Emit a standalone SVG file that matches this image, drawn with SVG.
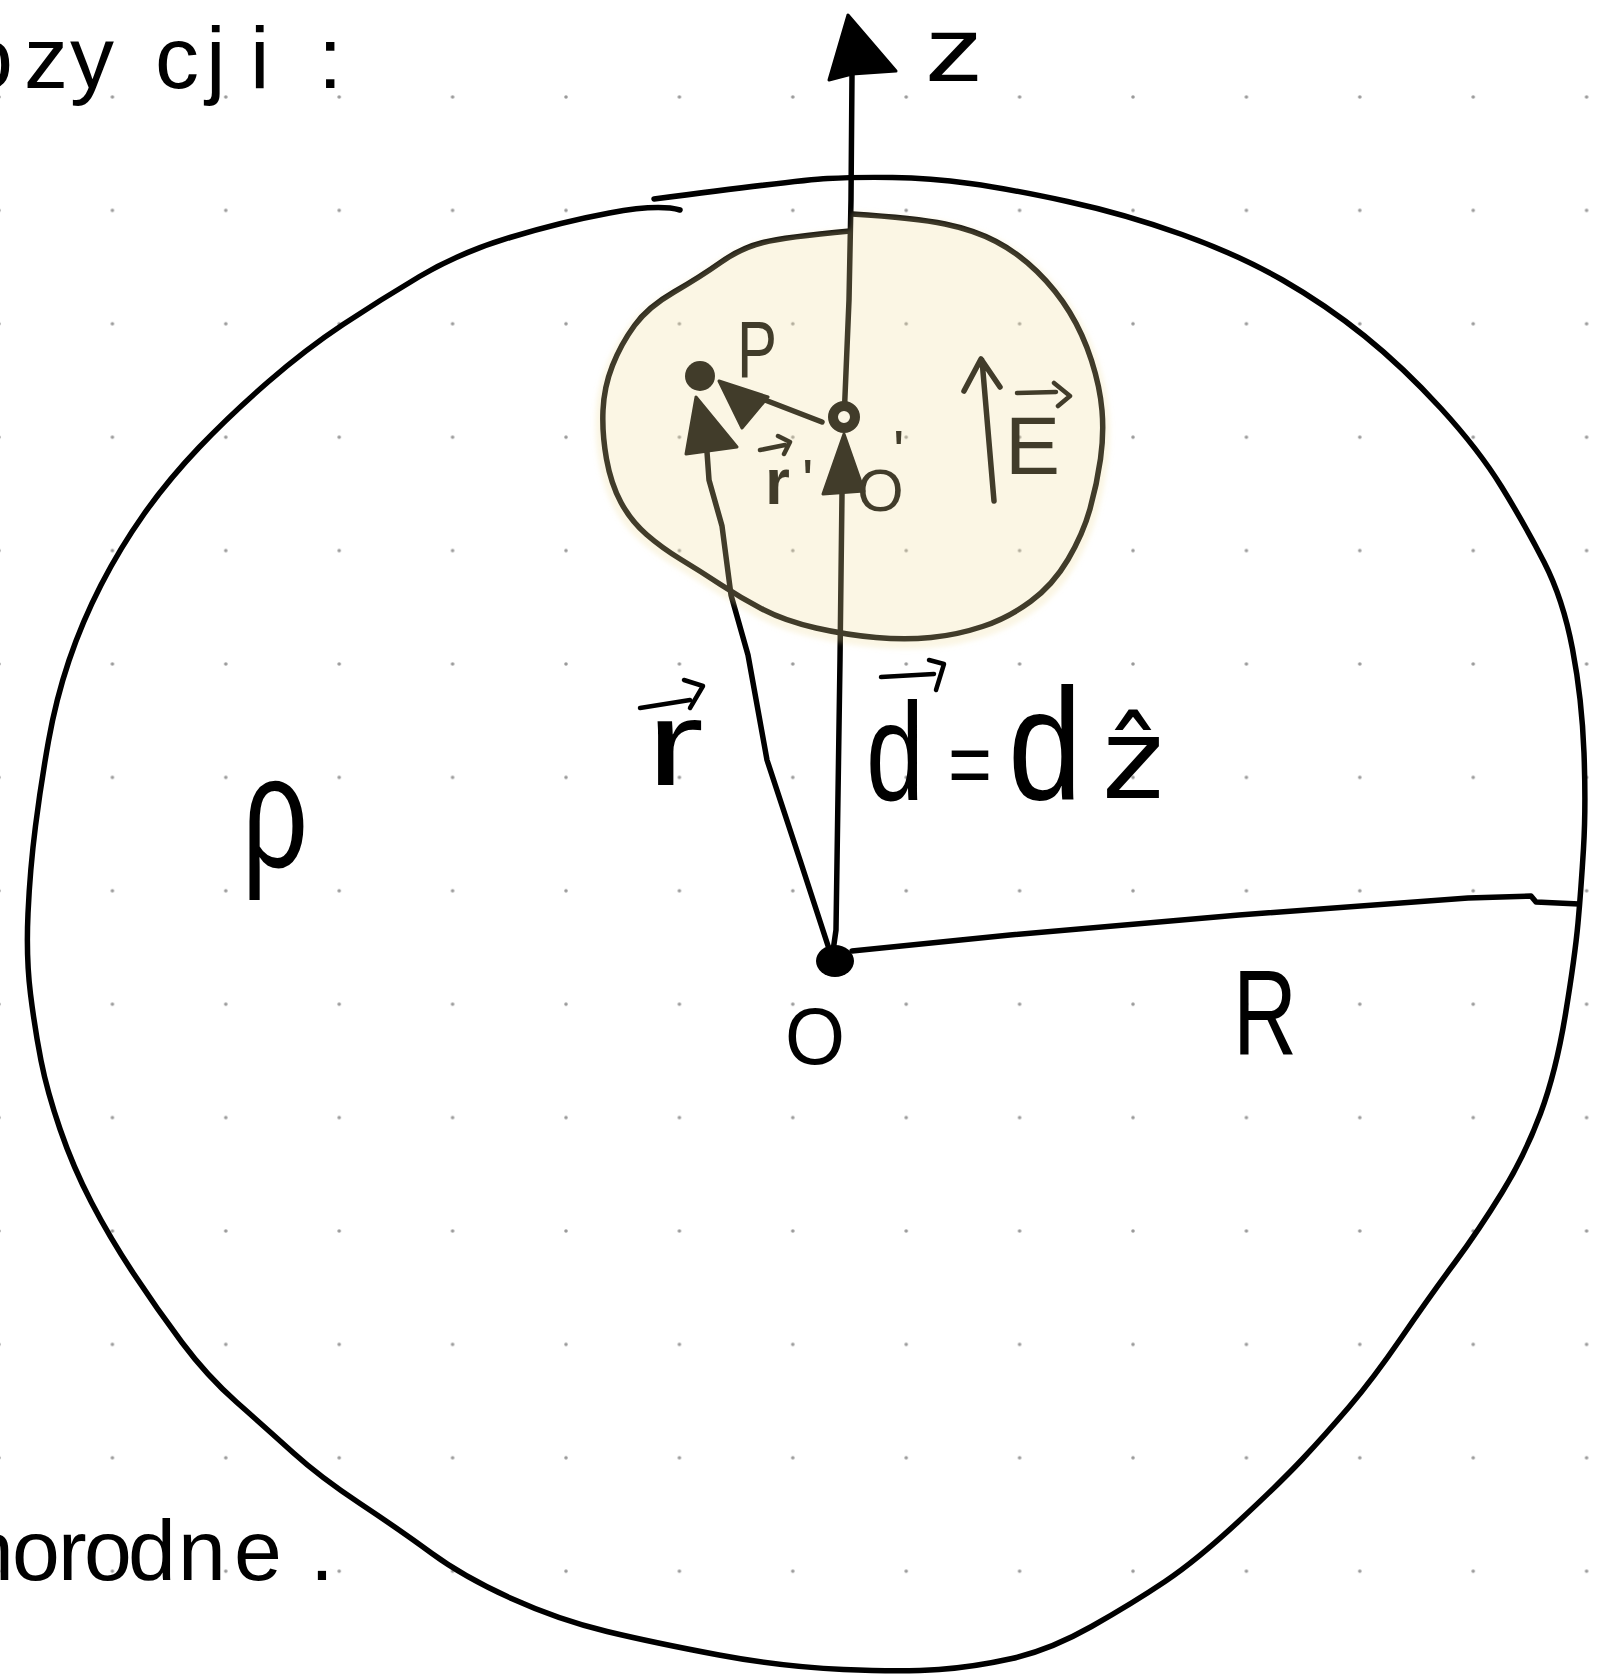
<svg xmlns="http://www.w3.org/2000/svg" width="1610" height="1676" viewBox="0 0 1610 1676">
  <style>
    .ink { fill: none; stroke: #000; stroke-width: 5.5; stroke-linecap: round; stroke-linejoin: round; }
    .thin { fill: none; stroke: #000; stroke-width: 4.5; stroke-linecap: round; stroke-linejoin: round; }
    .head { fill: #000; stroke: #000; stroke-width: 3; stroke-linejoin: round; }
    .lbl { font-family: "Liberation Sans", Arial, sans-serif; fill: #000; }
    .dj { font-family: "DejaVu Sans", "Liberation Sans", sans-serif; fill: #000; }
  </style>
  <defs>
    <pattern id="dots" patternUnits="userSpaceOnUse" x="-57.7" y="40.3" width="113.4" height="113.4">
      <circle cx="56.7" cy="56.7" r="1.8" fill="#9a9a9a"/>
    </pattern>
    <filter id="soft" x="-10%" y="-10%" width="120%" height="120%">
      <feGaussianBlur stdDeviation="2.5"/>
    </filter>
    <path id="cavityShape" d="M852,214 Q916,218 945,224 Q974,230 996,241.5 Q1018,253 1037,271.5 Q1056,290 1069.5,312 Q1083,334 1091.5,360.5 Q1100,387 1102,410.5 Q1104,434 1100.5,459 Q1097,484 1090,509 Q1083,534 1068,559.5 Q1053,585 1030.5,601.5 Q1008,618 982.5,626.5 Q957,635 931,637.5 Q905,640 876,637.5 Q847,635 816,628 Q785,621 763,609.5 Q741,598 720.5,584.5 Q700,571 681,559.5 Q662,548 646.5,534.5 Q631,521 621,502.5 Q611,484 606.5,459 Q602,434 603,410.5 Q604,387 612.5,365.5 Q621,344 634.5,325.5 Q648,307 674,292 Q700,277 720.5,262.5 Q741,248 763,242.5 Q785,237 850,231"/>
  </defs>

  <rect width="1610" height="1676" fill="#ffffff"/>
  <rect width="1610" height="1676" fill="url(#dots)"/>

  <!-- outer sphere node -->
  <g id="outer-sphere">
    <path class="ink" stroke-width="6" d="M654,199 Q800,180 827.5,178.5 Q855,177 892.5,177.5 Q930,178 970,183.5 Q1010,189 1067.5,201.5 Q1125,214 1182,234.5 Q1239,255 1282.5,280 Q1326,305 1364.5,336 Q1403,367 1441,408.5 Q1479,450 1502,487.5 Q1525,525 1544,562 Q1563,599 1572.5,649 Q1582,699 1584,753 Q1586,807 1583.5,848.5 Q1581,890 1578,923 Q1575,956 1565.5,1014 Q1556,1072 1540.5,1113.5 Q1525,1155 1502,1192.5 Q1479,1230 1454.5,1263 Q1430,1296 1401.5,1337.5 Q1373,1379 1349,1407 Q1325,1435 1302.5,1459 Q1280,1483 1238.5,1521.5 Q1197,1560 1165,1581.5 Q1133,1603 1091.5,1626.5 Q1050,1650 1012,1658.5 Q974,1667 939,1669.5 Q904,1672 843.5,1669.5 Q783,1667 719,1655 Q655,1643 607,1631.5 Q559,1620 511.5,1598.5 Q464,1577 432,1553.5 Q400,1530 360,1503.5 Q320,1477 293.5,1453 Q267,1429 237,1402.5 Q207,1376 182,1342.5 Q157,1309 133.5,1273.5 Q110,1238 91.5,1202.5 Q73,1167 60,1129 Q47,1091 41,1060.5 Q35,1030 30.5,994 Q26,958 28,913.5 Q30,869 35.5,826 Q41,783 48.5,741 Q56,699 69,660.5 Q82,622 101,585 Q120,548 144,514 Q168,480 199,447.5 Q230,415 268,382 Q306,349 343,324.5 Q380,300 419.5,276.5 Q459,253 510,237.5 Q561,222 609.5,213 Q658,204 680,210"/>
    <text class="lbl" x="242" y="867" font-size="160" textLength="66" lengthAdjust="spacingAndGlyphs">ρ</text>
    <text class="lbl" x="1233" y="1055" font-size="120" textLength="64" lengthAdjust="spacingAndGlyphs">R</text>
  </g>

  <!-- cavity node -->
  <g id="cavity">
    <use href="#cavityShape" class="ink" stroke-width="6"/>
  </g>

  <!-- connectors -->
  <g id="connectors">
    <!-- z axis -->
    <path class="ink" d="M844,420 L849,300 L851,200 L852,74"/>
    <polygon class="head" points="848,15 829,80 852,74 896,71"/>
    <!-- d vector O -> O' -->
    <path class="ink" d="M832,958 L836,930 L840,660 L842,494"/>
    <polygon class="head" points="844,434 823,494 864,491"/>
    <!-- r vector O -> P -->
    <path class="ink" d="M832,958 L800,860 L767,760 L748,655 L731,595 L722,526 L709,480 L707,452"/>
    <polygon class="head" points="696,397 686,454 737,447"/>
    <!-- r' vector O' -> P -->
    <path class="ink" d="M822,422 L765,400"/>
    <polygon class="head" points="719,381 742,428 768,397"/>
    <!-- R radius -->
    <path class="ink" d="M852,951 L1010,935 L1239,915 L1468,898 L1531,896 L1536,902 L1579,904"/>
    <!-- field E arrow -->
    <path class="ink" d="M994,501 L982,360 M964,391 L981,359 L1000,387"/>
  </g>

  <!-- point O -->
  <g id="point-O">
    <ellipse cx="835" cy="961" rx="19" ry="16" fill="#000"/>
    <text class="lbl" x="785" y="1064" font-size="80" textLength="60" lengthAdjust="spacingAndGlyphs">O</text>
  </g>

  <!-- point O' -->
  <g id="point-O-prime">
    <circle cx="844" cy="417" r="11" fill="#fff" stroke="#000" stroke-width="10"/>
    <text class="lbl" font-size="60" x="857 893" y="511 472">O'</text>
  </g>

  <!-- point P -->
  <g id="point-P">
    <circle cx="700" cy="376" r="15" fill="#000"/>
    <text class="lbl" x="737" y="377" font-size="80" textLength="40" lengthAdjust="spacingAndGlyphs">P</text>
  </g>

  <!-- labels -->
  <g id="labels">
    <text class="lbl" x="925" y="81" font-size="90" textLength="58" lengthAdjust="spacingAndGlyphs">z</text>
    <!-- r vector label -->
    <path class="thin" d="M640,708 L690,700 M684,680 L703,686 L690,708"/>
    <text class="lbl" x="646" y="785" font-size="120" textLength="58" lengthAdjust="spacingAndGlyphs">r</text>
    <!-- r' label -->
    <path class="thin" stroke-width="4" d="M760,450 L785,445 M778,436 L790,442 L784,454"/>
    <text class="lbl" x="765" y="504" font-size="64"><tspan font-weight="bold">r</tspan><tspan x="802" y="501" font-size="60">'</tspan></text>
    <!-- E label -->
    <path class="thin" stroke-width="4" d="M1017,393 L1056,392 M1054,383 L1070,396 L1058,406"/>
    <text class="lbl" x="1005" y="474" font-size="82" textLength="55" lengthAdjust="spacingAndGlyphs">E</text>
    <!-- d = d z-hat -->
    <path class="thin" d="M881,677 L934,674 M929,660 L944,664 L936,690"/>
    <text class="lbl" x="866" y="800" font-size="140" textLength="58" lengthAdjust="spacingAndGlyphs">d</text>
    <text class="lbl" x="948" y="795" font-size="90" textLength="44" lengthAdjust="spacingAndGlyphs">=</text>
    <text class="lbl" x="1008" y="800" font-size="160" textLength="74" lengthAdjust="spacingAndGlyphs">d</text>
    <text class="dj" x="1102" y="798" font-size="110" textLength="62" lengthAdjust="spacingAndGlyphs">ẑ</text>
    <!-- margin texts -->
    <text class="lbl" font-size="88" x="-36 24 70 155 206 250 318" y="88">ozycji:</text>
    <text class="lbl" font-size="86" x="-34 12 58 84 128 178 234 310" y="1580">norodne.</text>
  </g>

  <!-- highlighter over cavity -->
  <g id="highlight">
    <use href="#cavityShape" fill="#f2dc9c" fill-opacity="0.27" filter="url(#soft)" transform="translate(853 432) scale(1.03) translate(-853 -428)"/>
  </g>
</svg>
